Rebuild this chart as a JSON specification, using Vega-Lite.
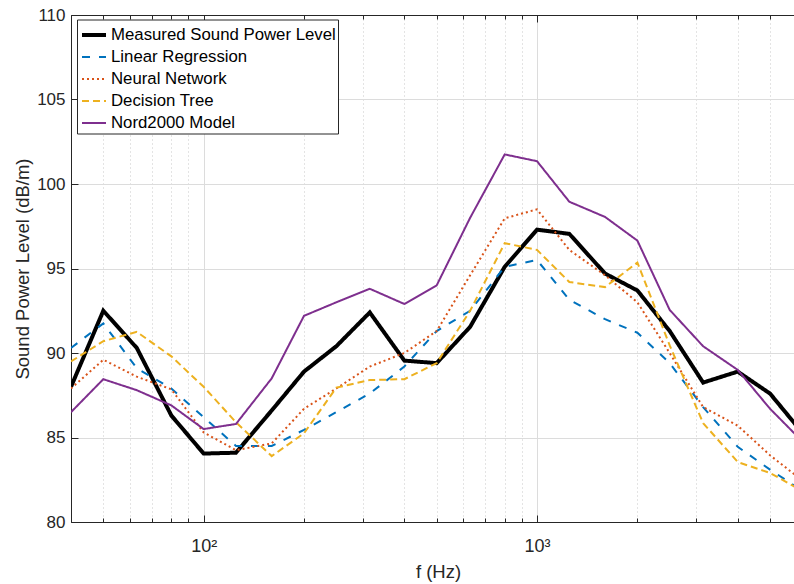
{
  "$schema": "https://vega.github.io/schema/vega-lite/v6.json",
  "width": 723,
  "height": 507,
  "autosize": {"type": "none"},
  "padding": {"left": 71, "top": 15, "right": 0, "bottom": 62},
  "background": "white",
  "config": {
    "view": {"stroke": null},
    "font": "Liberation Sans"
  },
  "data": {
    "values": [
      {"f": 40, "Measured Sound Power Level": 88.0, "Linear Regression": 90.3, "Neural Network": 87.9, "Decision Tree": 89.5, "Nord2000 Model": 86.5},
      {"f": 50, "Measured Sound Power Level": 92.5, "Linear Regression": 91.75, "Neural Network": 89.6, "Decision Tree": 90.7, "Nord2000 Model": 88.45},
      {"f": 63, "Measured Sound Power Level": 90.3, "Linear Regression": 89.1, "Neural Network": 88.6, "Decision Tree": 91.25, "Nord2000 Model": 87.8},
      {"f": 80, "Measured Sound Power Level": 86.3, "Linear Regression": 87.9, "Neural Network": 87.85, "Decision Tree": 89.8, "Nord2000 Model": 86.9},
      {"f": 100, "Measured Sound Power Level": 84.05, "Linear Regression": 86.2, "Neural Network": 85.3, "Decision Tree": 88.0, "Nord2000 Model": 85.5},
      {"f": 125, "Measured Sound Power Level": 84.1, "Linear Regression": 84.5, "Neural Network": 84.25, "Decision Tree": 85.9, "Nord2000 Model": 85.8},
      {"f": 160, "Measured Sound Power Level": 86.6, "Linear Regression": 84.5, "Neural Network": 84.65, "Decision Tree": 83.9, "Nord2000 Model": 88.5},
      {"f": 200, "Measured Sound Power Level": 88.9, "Linear Regression": 85.45, "Neural Network": 86.7, "Decision Tree": 85.25, "Nord2000 Model": 92.2},
      {"f": 250, "Measured Sound Power Level": 90.4, "Linear Regression": 86.5, "Neural Network": 87.9, "Decision Tree": 87.95, "Nord2000 Model": 93.0},
      {"f": 315, "Measured Sound Power Level": 92.4, "Linear Regression": 87.6, "Neural Network": 89.2, "Decision Tree": 88.4, "Nord2000 Model": 93.8},
      {"f": 400, "Measured Sound Power Level": 89.55, "Linear Regression": 89.2, "Neural Network": 90.0, "Decision Tree": 88.45, "Nord2000 Model": 92.9},
      {"f": 500, "Measured Sound Power Level": 89.4, "Linear Regression": 91.3, "Neural Network": 91.3, "Decision Tree": 89.4, "Nord2000 Model": 94.0},
      {"f": 630, "Measured Sound Power Level": 91.55, "Linear Regression": 92.5, "Neural Network": 94.6, "Decision Tree": 92.5, "Nord2000 Model": 98.0},
      {"f": 800, "Measured Sound Power Level": 95.1, "Linear Regression": 95.1, "Neural Network": 97.97, "Decision Tree": 96.5, "Nord2000 Model": 101.75},
      {"f": 1000, "Measured Sound Power Level": 97.3, "Linear Regression": 95.5, "Neural Network": 98.5, "Decision Tree": 96.1, "Nord2000 Model": 101.35},
      {"f": 1250, "Measured Sound Power Level": 97.05, "Linear Regression": 93.15, "Neural Network": 96.1, "Decision Tree": 94.2, "Nord2000 Model": 98.95},
      {"f": 1600, "Measured Sound Power Level": 94.7, "Linear Regression": 92.0, "Neural Network": 94.6, "Decision Tree": 93.9, "Nord2000 Model": 98.05},
      {"f": 2000, "Measured Sound Power Level": 93.7, "Linear Regression": 91.2, "Neural Network": 93.0, "Decision Tree": 95.35, "Nord2000 Model": 96.65},
      {"f": 2500, "Measured Sound Power Level": 91.3, "Linear Regression": 89.4, "Neural Network": 90.0, "Decision Tree": 90.45, "Nord2000 Model": 92.55},
      {"f": 3150, "Measured Sound Power Level": 88.25, "Linear Regression": 86.8, "Neural Network": 86.8, "Decision Tree": 85.85, "Nord2000 Model": 90.4},
      {"f": 4000, "Measured Sound Power Level": 88.9, "Linear Regression": 84.45, "Neural Network": 85.7, "Decision Tree": 83.55, "Nord2000 Model": 89.0},
      {"f": 5000, "Measured Sound Power Level": 87.6, "Linear Regression": 83.1, "Neural Network": 83.95, "Decision Tree": 82.9, "Nord2000 Model": 86.7},
      {"f": 6300, "Measured Sound Power Level": 85.2, "Linear Regression": 81.8, "Neural Network": 82.4, "Decision Tree": 81.8, "Nord2000 Model": 84.7}
    ]
  },
  "layer": [
    {
      "transform": [
        {"fold": ["Measured Sound Power Level", "Linear Regression", "Neural Network", "Decision Tree", "Nord2000 Model"], "as": ["series", "v"]}
      ],
      "mark": {"type": "line", "clip": true},
      "encoding": {
        "x": {
          "field": "f",
          "type": "quantitative",
          "scale": {"type": "log", "domain": [40, 5900], "nice": false},
          "axis": {
            "orient": "bottom",
            "values": [40, 50, 60, 70, 80, 90, 100, 200, 300, 400, 500, 600, 700, 800, 900, 1000, 2000, 3000, 4000, 5000],
            "labelExpr": "datum.value == 100 ? '10²' : datum.value == 1000 ? '10³' : ''",
            "labelOverlap": false,
            "labelFlush": false,
            "labelFontSize": 18,
            "labelColor": "#262626",
            "labelPadding": 22,
            "tickSize": {"condition": {"test": "datum.value == 100 || datum.value == 1000", "value": -7}, "value": -4},
            "tickColor": "#262626",
            "domain": true,
            "domainColor": "#262626",
            "domainWidth": 1,
            "grid": true,
            "gridColor": {"condition": {"test": "datum.value == 100 || datum.value == 1000", "value": "#dcdcdc"}, "value": "#c8c8c8"},
            "gridDash": {"condition": {"test": "datum.value == 100 || datum.value == 1000", "value": []}, "value": [1, 3]},
            "title": "f (Hz)",
            "titleFontSize": 18.5,
            "titleFontWeight": "normal",
            "titleColor": "#262626",
            "titleX": 367,
            "titleY": 55,
            "titleAlign": "center",
            "titleBaseline": "alphabetic"
          }
        },
        "y": {
          "field": "v",
          "type": "quantitative",
          "scale": {"domain": [80, 110], "nice": false, "zero": false},
          "axis": {
            "orient": "left",
            "values": [80, 85, 90, 95, 100, 105, 110],
            "labelOverlap": false,
            "labelFlush": false,
            "labelFontSize": 17,
            "labelColor": "#262626",
            "labelPadding": 13,
            "tickSize": -7,
            "tickColor": "#262626",
            "domain": true,
            "domainColor": "#262626",
            "domainWidth": 1,
            "grid": true,
            "gridColor": "#dcdcdc",
            "title": "Sound Power Level (dB/m)",
            "titleFontSize": 18.5,
            "titleFontWeight": "normal",
            "titleColor": "#262626",
            "titleAngle": 270,
            "titleX": -43,
            "titleY": 253.5,
            "titleAlign": "center",
            "titleBaseline": "alphabetic"
          }
        },
        "color": {
          "field": "series",
          "type": "nominal",
          "scale": {
            "domain": ["Measured Sound Power Level", "Linear Regression", "Neural Network", "Decision Tree", "Nord2000 Model"],
            "range": ["#000000", "#0072BD", "#D95319", "#EDB120", "#7E2F8E"]
          },
          "legend": {
            "title": null,
            "orient": "none",
            "legendX": 6,
            "legendY": 4.5,
            "strokeColor": "#262626",
            "fillColor": "white",
            "padding": 1.5,
            "symbolType": "stroke",
            "symbolSize": 576,
            "symbolOffset": 1.5,
            "labelFontSize": 16.8,
            "labelLimit": 0,
            "labelColor": "#000000",
            "labelOffset": 3,
            "rowPadding": -5.25
          }
        },
        "strokeDash": {
          "field": "series",
          "type": "nominal",
          "scale": {
            "domain": ["Measured Sound Power Level", "Linear Regression", "Neural Network", "Decision Tree", "Nord2000 Model"],
            "range": [[1, 0], [8, 9], [2, 3], [7, 4], [1, 0]]
          },
          "legend": {"title": null, "orient": "none", "legendX": 6, "legendY": 4.5}
        },
        "strokeWidth": {
          "field": "series",
          "type": "nominal",
          "scale": {
            "type": "ordinal",
            "domain": ["Measured Sound Power Level", "Linear Regression", "Neural Network", "Decision Tree", "Nord2000 Model"],
            "range": [4, 2, 2, 2, 2]
          },
          "legend": {"title": null, "orient": "none", "legendX": 6, "legendY": 4.5}
        }
      }
    },
    {
      "mark": {"type": "rule", "opacity": 0},
      "encoding": {
        "x": {
          "field": "f",
          "type": "quantitative",
          "axis": {
            "orient": "top",
            "values": [40, 50, 60, 70, 80, 90, 100, 200, 300, 400, 500, 600, 700, 800, 900, 1000, 2000, 3000, 4000, 5000],
            "labels": false,
            "grid": false,
            "title": null,
            "tickSize": {"condition": {"test": "datum.value == 100 || datum.value == 1000", "value": -7}, "value": -4},
            "tickColor": "#262626",
            "domain": true,
            "domainColor": "#262626",
            "domainWidth": 1
          }
        }
      }
    }
  ]
}
